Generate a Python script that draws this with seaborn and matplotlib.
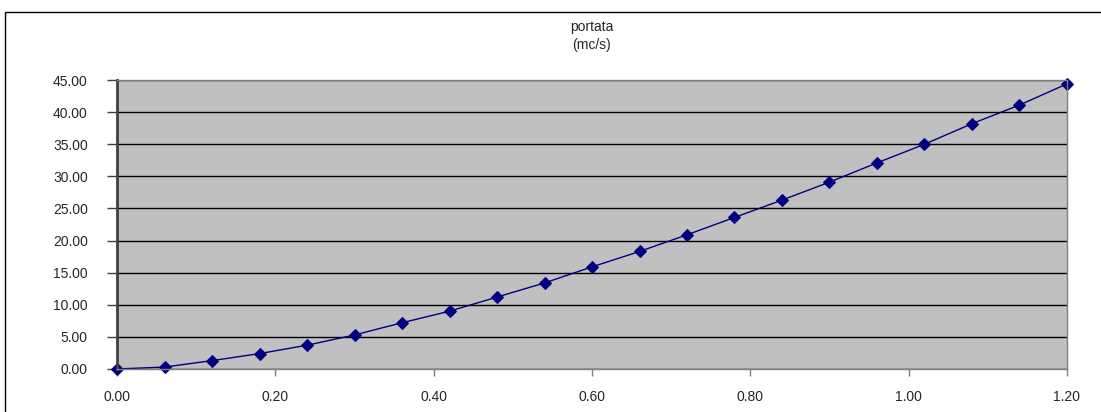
import numpy as np
import pandas as pd
import matplotlib
matplotlib.use('Agg')
import matplotlib.pyplot as plt
from matplotlib.patches import Rectangle
import seaborn as sns

# --- DATA ---
altezza = [0.00, 0.06, 0.12, 0.18, 0.24, 0.30, 0.36, 0.42, 0.48, 0.54, 0.60,
           0.66, 0.72, 0.78, 0.84, 0.90, 0.96, 1.02, 1.08, 1.14, 1.20]
portata = [0.0, 0.3, 1.3, 2.4, 3.7, 5.3, 7.2, 9.0, 11.2, 13.4, 15.9,
           18.3, 20.9, 23.6, 26.3, 29.1, 32.1, 35.0, 38.2, 41.1, 44.4]
x_ticks = [0.0, 0.2, 0.4, 0.6, 0.8, 1.0, 1.2]
y_ticks = [0, 5, 10, 15, 20, 25, 30, 35, 40, 45]

df = pd.DataFrame({'h': altezza, 'q': portata})

# --- STYLE ---
sns.set_style('white')
plt.rcParams['font.family'] = ['Liberation Sans', 'DejaVu Sans']

fig = plt.figure(figsize=(11.01, 4.12), dpi=100)
ax = fig.add_axes([0.1063, 0.1044, 0.8628, 0.7014])

# outer chart border
fig.patches.append(Rectangle((5 / 1101, -0.05), 1.1, 1 - 12 / 412 + 0.05,
                             transform=fig.transFigure, fill=False,
                             edgecolor='black', linewidth=1))

ax.set_facecolor('#C0C0C0')
sns.lineplot(data=df, x='h', y='q', ax=ax, color='#000080', marker='D',
             markersize=6, markeredgecolor='#000080', linewidth=1, clip_on=False)

ax.set_xlim(0, 1.2)
ax.set_ylim(0, 45)
ax.set_xticks(x_ticks)
ax.set_yticks(y_ticks)
ax.set_xticklabels([f'{v:.2f}' for v in x_ticks])
ax.set_yticklabels([f'{v:.2f}' for v in y_ticks])
ax.grid(axis='y', color='black', linewidth=1)
ax.grid(axis='x', visible=False)
ax.set_axisbelow(True)

ax.tick_params(axis='y', direction='out', length=7, width=1, color='#404040',
               labelsize=10, pad=14, left=True)
ax.tick_params(axis='x', direction='out', length=5, width=1, color='#808080',
               labelsize=10, pad=10, bottom=True)

for side in ['top', 'right', 'bottom']:
    ax.spines[side].set_color('#808080')
    ax.spines[side].set_linewidth(1)
ax.spines['left'].set_color('#404040')
ax.spines['left'].set_linewidth(2)

ax.set_xlabel('')
ax.set_ylabel('')
fig.text(592 / 1101, 1 - 27 / 412, 'portata', ha='center', va='center', fontsize=10)
fig.text(592 / 1101, 1 - 45 / 412, '(mc/s)', ha='center', va='center', fontsize=10)

fig.savefig('out.png', dpi=100)
